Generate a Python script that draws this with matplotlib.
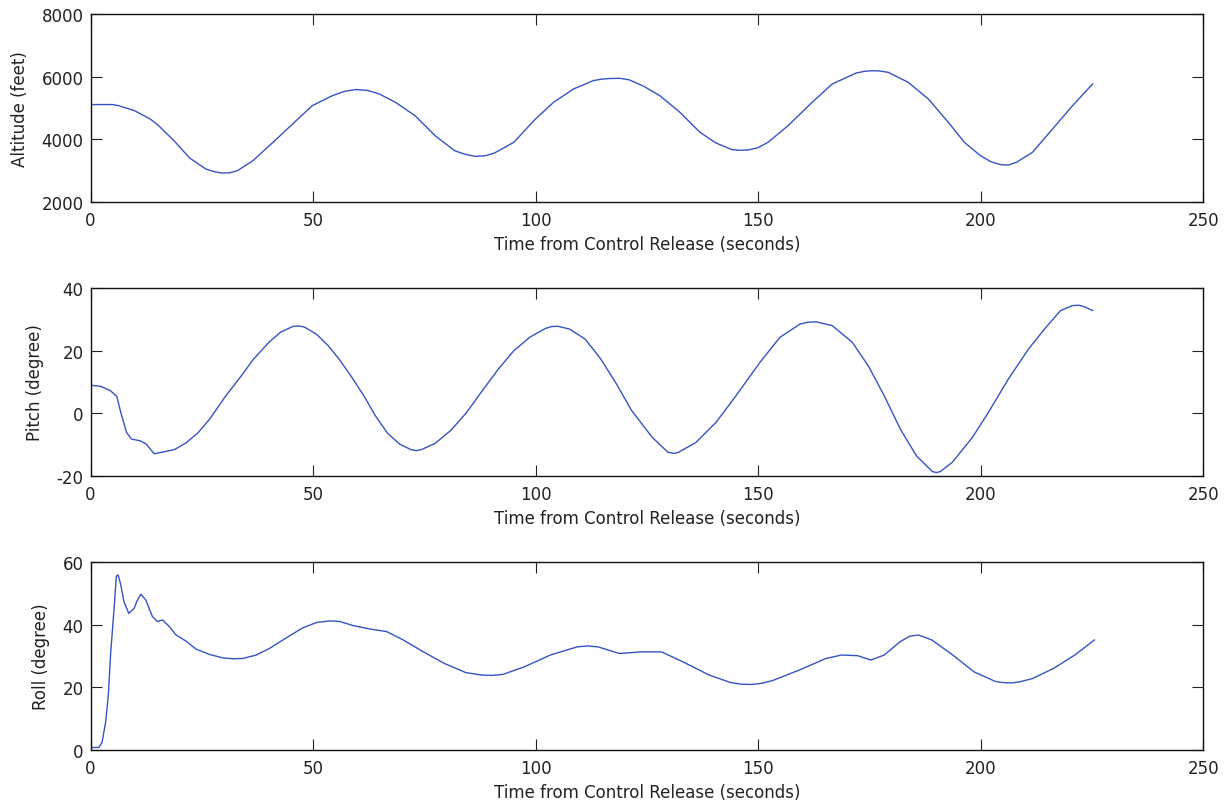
import numpy as np
import matplotlib.pyplot as plt

plt.rcParams['font.family'] = ['DejaVu Sans']
plt.rcParams['axes.unicode_minus'] = False

# Altitude (feet) vs time (s)
alt_t = [0, 5.0, 6.3, 9.9, 13.4, 15.2, 18.8, 22.3, 25.9, 27.6, 29.4, 31.2, 33.0, 36.5, 41.8,
         45.4, 49.8, 54.3, 57.0, 59.6, 62.3, 64.9, 68.5, 72.9, 77.4, 81.8, 84.0, 86.3, 88.5,
         90.7, 95.1, 99.6, 104.0, 108.5, 112.9, 114.7, 116.5, 118.9, 121.0, 124.3, 127.9,
         132.4, 136.9, 140.5, 144.1, 145.9, 147.7, 149.9, 152.2, 156.7, 162.1, 166.6, 172.0,
         173.8, 175.6, 177.4, 179.2, 183.7, 188.2, 192.7, 196.3, 199.9, 202.2, 204.4, 206.2,
         208.0, 211.6, 216.1, 220.6, 225.1]
alt_v = [5110, 5110, 5074, 4915, 4649, 4450, 3950, 3400, 3054, 2975, 2926, 2930, 3000, 3320, 4011,
         4490, 5074, 5393, 5530, 5590, 5560, 5447, 5181, 4755, 4117, 3638, 3530, 3458, 3470,
         3560, 3906, 4600, 5181, 5607, 5872, 5920, 5940, 5948, 5900, 5692, 5393,
         4862, 4224, 3884, 3670, 3650, 3660, 3730, 3906, 4437, 5181, 5766, 6117,
         6170, 6191, 6180, 6138, 5819, 5287, 4543, 3906, 3479, 3290, 3192, 3180,
         3267, 3586, 4330, 5074, 5766]

# Pitch (degree) vs time (s)
pitch_t = [0, 2.3, 4.5, 5.9, 6.8, 8.1, 9.2, 11.2, 12.5, 14.3, 16.1, 18.8, 21.4, 24.1,
           26.8, 30.3, 33.9, 36.5, 40.1, 42.7, 45.4, 46.8, 48.1, 50.7, 53.4, 56.1, 58.7,
           61.4, 64.0, 66.7, 69.4, 72.0, 73.2, 74.3, 77.4, 80.9, 84.5, 88.0, 91.6, 95.1,
           98.7, 102.2, 103.6, 104.9, 107.6, 111.1, 114.5, 118.1, 121.5, 126.2, 129.7,
           131.0, 132.0, 136.0, 140.5, 145.0, 150.4, 154.9, 159.4, 161.2, 163.0, 166.6,
           171.1, 174.7, 178.3, 181.9, 185.5, 189.1, 190.0, 190.9, 193.6, 198.1, 201.7,
           206.2, 210.7, 214.3, 217.9, 220.6, 222.0, 223.3, 225.1]
pitch_v = [9.0, 8.6, 7.2, 5.4, 0.3, -6.1, -8.2, -8.8, -9.8, -12.9, -12.4, -11.6, -9.5,
           -6.3, -1.8, 5.4, 12.0, 17.1, 22.7, 25.9, 27.7, 27.9, 27.5, 25.3, 21.6, 16.8, 11.5,
           5.6, -0.8, -6.3, -9.8, -11.6, -11.9, -11.6, -9.6, -5.5, 0.3, 7.2, 14.1, 20.0,
           24.3, 27.1, 27.7, 27.8, 26.9, 23.7, 17.6, 9.5, 1.0, -7.7, -12.4,
           -12.8, -12.5, -9.3, -2.9, 5.6, 16.3, 24.3, 28.5, 29.1, 29.2, 28.0,
           22.7, 15.2, 5.6, -5.0, -13.5, -18.6, -18.9, -18.6, -15.6, -7.7, 0.3,
           11.0, 20.5, 26.9, 32.8, 34.4, 34.5, 34.0, 32.8]

# Roll (degree) vs time (s)
roll_t = [0, 1.9, 2.6, 3.4, 4.0, 4.5, 4.9, 5.3, 5.8, 6.2, 6.8, 7.5, 8.6, 9.8, 10.4,
          11.3, 12.4, 13.9, 15.0, 16.2, 17.7, 19.2, 21.4, 23.7, 26.7, 29.7, 32.0, 34.2,
          37.2, 40.2, 44.0, 47.7, 50.8, 53.8, 56.0, 59.0, 62.8, 66.5, 70.0, 74.8,
          79.5, 84.3, 87.9, 90.2, 92.6, 97.4, 103.3, 109.3, 111.6, 114.0, 118.8, 123.6, 128.3,
          133.1, 139.0, 143.8, 146.2, 148.5, 150.9, 153.3, 159.2, 165.2, 168.7, 172.3, 175.3,
          178.3, 181.8, 184.0, 186.0, 189.0, 193.7, 198.5, 203.2, 205.0, 206.8, 208.6,
          211.6, 216.3, 221.1, 225.5]
roll_v = [0.8, 0.8, 2.5, 8.9, 17.4, 30.3, 37.8, 45.2, 55.4, 55.9, 52.7, 47.4, 43.6,
          45.2, 47.4, 49.7, 47.9, 42.6, 41.0, 41.5, 39.4, 36.7, 34.8, 32.2, 30.5,
          29.4, 29.1, 29.2, 30.3, 32.4, 35.8, 39.0, 40.7, 41.2, 41.0, 39.7, 38.6, 37.8,
          35.3, 31.3, 27.6, 24.7, 23.9, 23.8, 24.1, 26.5, 30.3, 32.9, 33.2, 32.9, 30.8, 31.3,
          31.3, 28.1, 23.9, 21.5, 21.0, 20.9, 21.3, 22.2, 25.5, 29.2, 30.3, 30.1, 28.7,
          30.3, 34.5, 36.3, 36.7, 35.1, 30.3, 24.9, 21.9, 21.5, 21.4, 21.7,
          22.8, 26.0, 30.3, 35.1]

panels = [
    (alt_t, alt_v, 'Altitude (feet)', (2000, 8000), [2000, 4000, 6000, 8000]),
    (pitch_t, pitch_v, 'Pitch (degree)', (-20, 40), [-20, 0, 20, 40]),
    (roll_t, roll_v, 'Roll (degree)', (0, 60), [0, 20, 40, 60]),
]
bottoms = [0.7472, 0.4060, 0.0648]

fig = plt.figure(figsize=(12.28, 8.03), dpi=100)
for (t, v, ylab, ylim, yticks), b in zip(panels, bottoms):
    ax = fig.add_axes([0.0737, b, 0.9063, 0.2341])
    ax.plot(t, v, color='#3553c4', linewidth=1.0)
    ax.set_xlim(0, 250)
    ax.set_ylim(*ylim)
    ax.set_xticks([0, 50, 100, 150, 200, 250])
    ax.set_yticks(yticks)
    ax.tick_params(direction='in', length=8, width=0.8, top=True, right=True,
                   labelsize=12, colors='#222222', labelcolor='#222222')
    ax.tick_params(axis='x', pad=6.5)
    ax.tick_params(axis='y', pad=5)
    for s in ax.spines.values():
        s.set_linewidth(1.0)
        s.set_color('#111111')
    ax.set_xlabel('Time from Control Release (seconds)', fontsize=12,
                  color='#222222', labelpad=4.5)
    ax.set_ylabel(ylab, fontsize=12, color='#222222', labelpad=9)

fig.savefig('out.png', dpi=100)
